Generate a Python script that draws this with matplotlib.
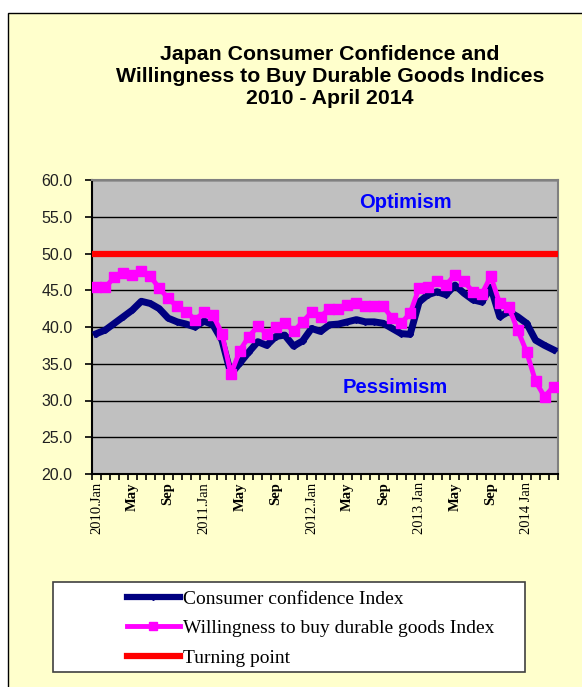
import matplotlib.pyplot as plt
from matplotlib.patches import Rectangle
from matplotlib.lines import Line2D
import numpy as np

# monthly, 2010 Jan .. 2014 Apr
months = ['2010.Jan', 'Feb', 'Mar', 'Apr', 'May', 'Jun', 'Jul', 'Aug', 'Sep', 'Oct', 'Nov', 'Dec',
          '2011.Jan', 'Feb', 'Mar', 'Apr', 'May', 'Jun', 'Jul', 'Aug', 'Sep', 'Oct', 'Nov', 'Dec',
          '2012.Jan', 'Feb', 'Mar', 'Apr', 'May', 'Jun', 'Jul', 'Aug', 'Sep', 'Oct', 'Nov', 'Dec',
          '2013 Jan', 'Feb', 'Mar', 'Apr', 'May', 'Jun', 'Jul', 'Aug', 'Sep', 'Oct', 'Nov', 'Dec',
          '2014 Jan', 'Feb', 'Mar', 'Apr']

confidence = [39.1, 39.6, 40.5, 41.4, 42.3, 43.5, 43.2, 42.5, 41.2, 40.7, 40.4, 40.0,
              40.8, 40.3, 38.2, 33.6, 35.1, 36.6, 38.0, 37.5, 38.7, 38.9, 37.4, 38.1,
              39.8, 39.4, 40.3, 40.4, 40.7, 41.0, 40.7, 40.7, 40.5, 39.8, 39.1, 39.0,
              43.4, 44.4, 44.8, 44.4, 45.7, 44.6, 43.7, 43.4, 45.4, 41.4, 42.1, 41.4,
              40.5, 38.2, 37.5, 36.9]

willingness = [45.4, 45.4, 46.8, 47.3, 47.1, 47.6, 46.9, 45.3, 43.9, 42.8, 42.1, 41.0,
               42.0, 41.6, 39.1, 33.6, 36.8, 38.7, 40.1, 39.1, 40.0, 40.6, 39.4, 40.7,
               42.0, 41.4, 42.5, 42.4, 43.0, 43.3, 42.9, 42.8, 42.8, 41.2, 40.5, 41.9,
               45.3, 45.5, 46.2, 45.7, 47.1, 46.2, 44.8, 44.5, 46.9, 43.2, 42.7, 39.6,
               36.6, 32.6, 30.5, 31.9]

turning_point = 50.0

W, H = 582, 687
fig = plt.figure(figsize=(W / 100, H / 100), dpi=100, facecolor='white')

# pale yellow chart area
fig.patches.append(Rectangle((8 / W, -0.01), 1.1, 1 - 13 / H + 0.01, transform=fig.transFigure,
                             facecolor='#FFFFCC', edgecolor='black', lw=1, zorder=-2))

ax = fig.add_axes([92 / W, 1 - 474 / H, 466 / W, 294 / H])
ax.set_facecolor('#C0C0C0')

x = np.arange(len(months))
ax.axhline(turning_point, color='#FF0000', lw=4.5, zorder=3)
ax.plot(x, confidence, color='#000080', lw=5, marker='D', ms=3, zorder=4)
ax.plot(x, willingness, color='#FF00FF', lw=3.5, marker='s', ms=6.5, zorder=5)

ax.set_xlim(-0.5, len(months) - 0.5)
ax.set_ylim(20, 60)
ax.set_yticks(np.arange(20, 61, 5))
ax.set_yticklabels(['%.1f' % v for v in np.arange(20, 61, 5)], family='Liberation Sans', fontsize=11.5)
ax.yaxis.grid(True, color='black', lw=1)
ax.set_axisbelow(True)
ax.tick_params(axis='y', length=5, width=1.2, pad=9, labelcolor='#202020')

# labels every 4 months, ticks between months
ax.set_xticks(x[::4])
ax.set_xticklabels(months[::4], rotation=90, family='Liberation Serif', fontsize=10.5)
for lab in ax.get_xticklabels():
    if not lab.get_text()[0].isdigit():
        lab.set_fontweight('bold')
ax.set_xticks(np.arange(len(months) + 1) - 0.5, minor=True)
ax.tick_params(axis='x', which='major', length=0, pad=6)
ax.tick_params(axis='x', which='minor', length=4, width=1.2)

for s in ['left', 'bottom']:
    ax.spines[s].set_color('black')
    ax.spines[s].set_linewidth(1.5)
for s in ['top', 'right']:
    ax.spines[s].set_color('#808080')
    ax.spines[s].set_linewidth(1.5)

ax.text(0.672, 0.925, 'Optimism', transform=ax.transAxes, ha='center', va='center',
        color='#0000FF', fontsize=14.5, fontweight='bold', family='Liberation Sans')
ax.text(0.650, 0.293, 'Pessimism', transform=ax.transAxes, ha='center', va='center',
        color='#0000FF', fontsize=14.5, fontweight='bold', family='Liberation Sans')

fig.text(330 / W, 1 - 76 / H, 'Japan Consumer Confidence and\nWillingness to Buy Durable Goods Indices\n2010 - April 2014',
         ha='center', va='center', fontsize=15.3, fontweight='bold', family='Liberation Sans', linespacing=1.2)

# legend box
fig.patches.append(Rectangle((53 / W, 1 - 672 / H), 472 / W, 90 / H, transform=fig.transFigure,
                             facecolor='white', edgecolor='#404040', lw=1.2, zorder=-1))
handles = [Line2D([], [], color='#000080', lw=4.5, marker='D', ms=3),
           Line2D([], [], color='#FF00FF', lw=3.5, marker='s', ms=6),
           Line2D([], [], color='#FF0000', lw=4.5)]
labels = ['Consumer confidence Index', 'Willingness to buy durable goods Index', 'Turning point']
fig.legend(handles, labels, loc='upper left', bbox_to_anchor=(127 / W, 1 - 590 / H), frameon=False,
           prop={'family': 'Liberation Serif', 'size': 14}, handlelength=2.7, handletextpad=0.2,
           labelspacing=0.62, borderpad=0, borderaxespad=0)

fig.savefig('out.png', dpi=100, facecolor=fig.get_facecolor())
